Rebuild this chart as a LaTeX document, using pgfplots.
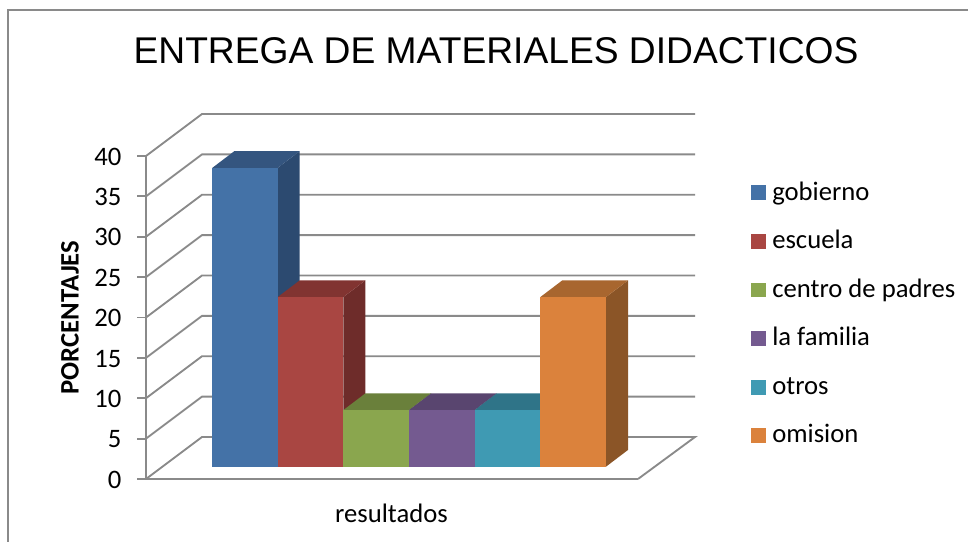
\documentclass[border=0pt]{standalone}
\usepackage{pgfplots}
\pgfplotsset{compat=1.18}
\usepackage{fontspec}
\setmainfont{Carlito}
\newfontfamily\titlefont{Liberation Sans}
\definecolor{gridc}{HTML}{8A8A8A}
\definecolor{bluef}{HTML}{4472A7}\definecolor{bluet}{HTML}{34557F}\definecolor{blues}{HTML}{2C4A70}
\definecolor{redf}{HTML}{A94642}\definecolor{redt}{HTML}{813431}\definecolor{reds}{HTML}{6E2C2A}
\definecolor{greenf}{HTML}{8AA64E}\definecolor{greent}{HTML}{6A803B}\definecolor{greens}{HTML}{5A6E32}
\definecolor{purplef}{HTML}{745A90}\definecolor{purplet}{HTML}{59456F}\definecolor{purples}{HTML}{4B3A5F}
\definecolor{tealf}{HTML}{3F9AB3}\definecolor{tealt}{HTML}{2F7488}\definecolor{teals}{HTML}{286376}
\definecolor{orangef}{HTML}{DB823C}\definecolor{oranget}{HTML}{A8662F}\definecolor{oranges}{HTML}{8B5527}
\pgfplotsset{
  swatch/.style={legend image code/.code={
    \path[draw=none,fill=none] (0cm,0cm) -- (15.75pt,0cm);
    \fill[#1,draw=none] (0cm,-4.1pt) rectangle (11.25pt,7.1pt);}},
}
\begin{document}
\begin{tikzpicture}
\useasboundingbox (0,0) rectangle (726pt,406.5pt);
\begin{axis}[
  at={(109.5pt,47.25pt)}, anchor=origin,
  scale only axis, width=369pt, height=242.25pt,
  xmin=146, xmax=638, ymin=0, ymax=40,
  clip=false,
  axis lines=left,
  axis line style={-,draw=gridc,line width=1.5pt},
  tick style={draw=gridc,line width=1.4pt},
  major tick length=6.4pt,
  xtick=\empty,
  ytick={0,5,...,40},
  tick align=outside,
  /pgf/number format/assume math mode=true,
  tick label style={font=\fontsize{20}{22}\selectfont},
  yticklabel style={xshift=-8.5pt,yshift=-0.5pt},
  title={ENTREGA DE MATERIALES DIDACTICOS},
  title style={at={(axis cs:496,52.0)},anchor=center,font=\fontsize{27.9}{30}\selectfont\titlefont},
  xlabel={resultados},
  xlabel style={at={(axis cs:391.5,-4.2)},anchor=center,font=\fontsize{20}{22}\selectfont},
  ylabel={PORCENTAJES},
  ylabel style={at={(axis cs:70,20.0)},anchor=center,font=\fontsize{20}{22}\selectfont\bfseries},
  legend style={at={(axis cs:751,20.15)},anchor=west,draw=none,fill=none,
    row sep=20.4pt,inner xsep=0pt,
    nodes={font=\fontsize{20}{22}\selectfont,text height=12pt,text depth=4pt,inner sep=0pt,xshift=3pt}},
  legend cell align=left,
]
% window frame
\addplot[draw=gridc,line width=1pt,forget plot] coordinates {(8,-7.8) (8,58.08) (968,58.08)};
% walls and floor
\addplot[draw=gridc,line width=1.4pt,forget plot] coordinates {(146,0) (202,5.2) (695,5.2) (638,0)};
\addplot[draw=gridc,line width=1.4pt,forget plot] coordinates {(146,5) (202,10.2) (695,10.2)};
\addplot[draw=gridc,line width=1.4pt,forget plot] coordinates {(146,10) (202,15.2) (695,15.2)};
\addplot[draw=gridc,line width=1.4pt,forget plot] coordinates {(146,15) (202,20.2) (695,20.2)};
\addplot[draw=gridc,line width=1.4pt,forget plot] coordinates {(146,20) (202,25.2) (695,25.2)};
\addplot[draw=gridc,line width=1.4pt,forget plot] coordinates {(146,25) (202,30.2) (695,30.2)};
\addplot[draw=gridc,line width=1.4pt,forget plot] coordinates {(146,30) (202,35.2) (695,35.2)};
\addplot[draw=gridc,line width=1.4pt,forget plot] coordinates {(146,35) (202,40.2) (695,40.2)};
\addplot[draw=gridc,line width=1.4pt,forget plot] coordinates {(146,40) (202,45.2) (695,45.2)};
\addlegendimage{swatch=bluef}\addlegendentry{gobierno}
\addlegendimage{swatch=redf}\addlegendentry{escuela}
\addlegendimage{swatch=greenf}\addlegendentry{centro de padres}
\addlegendimage{swatch=purplef}\addlegendentry{la familia}
\addlegendimage{swatch=tealf}\addlegendentry{otros}
\addlegendimage{swatch=orangef}\addlegendentry{omision}
\end{axis}
% the bars stand on the floor, 12.3 px above the front edge
\begin{axis}[
  at={(109.5pt,56.5pt)}, anchor=origin,
  scale only axis, width=369pt, height=242.25pt,
  xmin=146, xmax=638, ymin=0, ymax=40,
  clip=false, hide axis,
]
% gobierno 37
\addplot[fill=blues,draw=none] coordinates {(277.7,0) (299.7,2.07) (299.7,39.07) (277.7,37)} -- cycle;
\addplot[fill=bluet,draw=none] coordinates {(212.3,37) (277.7,37) (299.7,39.07) (234.3,39.07)} -- cycle;
\addplot[fill=bluef,draw=none] coordinates {(212.3,0) (277.7,0) (277.7,37) (212.3,37)} -- cycle;
% escuela 21
\addplot[fill=reds,draw=none] coordinates {(343.3,0) (365.3,2.07) (365.3,23.07) (343.3,21)} -- cycle;
\addplot[fill=redt,draw=none] coordinates {(277.7,21) (343.3,21) (365.3,23.07) (299.7,23.07)} -- cycle;
\addplot[fill=redf,draw=none] coordinates {(277.7,0) (343.3,0) (343.3,21) (277.7,21)} -- cycle;
% centro de padres 7
\addplot[fill=greens,draw=none] coordinates {(409,0) (431,2.07) (431,9.07) (409,7)} -- cycle;
\addplot[fill=greent,draw=none] coordinates {(343.3,7) (409,7) (431,9.07) (365.3,9.07)} -- cycle;
\addplot[fill=greenf,draw=none] coordinates {(343.3,0) (409,0) (409,7) (343.3,7)} -- cycle;
% la familia 7
\addplot[fill=purples,draw=none] coordinates {(474.6,0) (496.6,2.07) (496.6,9.07) (474.6,7)} -- cycle;
\addplot[fill=purplet,draw=none] coordinates {(409,7) (474.6,7) (496.6,9.07) (431,9.07)} -- cycle;
\addplot[fill=purplef,draw=none] coordinates {(409,0) (474.6,0) (474.6,7) (409,7)} -- cycle;
% otros 7
\addplot[fill=teals,draw=none] coordinates {(540.3,0) (562.3,2.07) (562.3,9.07) (540.3,7)} -- cycle;
\addplot[fill=tealt,draw=none] coordinates {(474.6,7) (540.3,7) (562.3,9.07) (496.6,9.07)} -- cycle;
\addplot[fill=tealf,draw=none] coordinates {(474.6,0) (540.3,0) (540.3,7) (474.6,7)} -- cycle;
% omision 21
\addplot[fill=oranges,draw=none] coordinates {(606,0) (628,2.07) (628,23.07) (606,21)} -- cycle;
\addplot[fill=oranget,draw=none] coordinates {(540.3,21) (606,21) (628,23.07) (562.3,23.07)} -- cycle;
\addplot[fill=orangef,draw=none] coordinates {(540.3,0) (606,0) (606,21) (540.3,21)} -- cycle;
\end{axis}
\end{tikzpicture}
\end{document}
